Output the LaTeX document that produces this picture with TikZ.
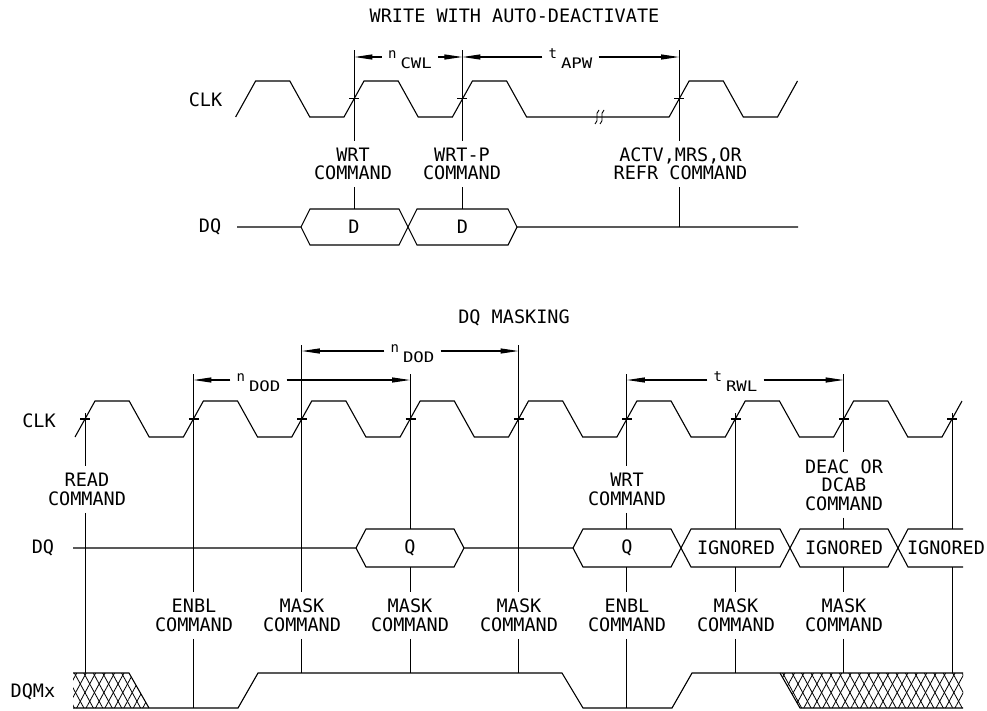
\documentclass[tikz,border=0pt]{standalone}
\usepackage{graphicx}
\usepackage{fontspec}
\setmonofont{DejaVu Sans Mono}
\usetikzlibrary{arrows.meta,patterns.meta,positioning}

\newcommand\dimlbl[2]{{\fontsize{14}{14}\selectfont #1}\hspace{4pt}\raisebox{-10pt}{\fontsize{14.5}{14.5}\selectfont\scalebox{1.2}[1]{#2}}}

\begin{document}
\begin{tikzpicture}[
  x=1pt, y=-1pt,
  wave/.style={line width=1.1pt, line join=miter},
  ext/.style={line width=1.1pt},
  dimarr/.style={line width=1.1pt, -{Triangle[length=18pt,width=5pt]}},
  txt/.style={font=\ttfamily\fontsize{18.5}{18.5}\selectfont, align=center, inner xsep=2pt, inner ysep=7pt},
  dimtxt/.style={font=\ttfamily, anchor=base, inner xsep=6pt, inner ysep=0pt},
  hatch/.style={pattern={Lines[angle=61.5,distance=8.3pt,line width=0.8pt]}},
  hatchb/.style={pattern={Lines[angle=118.5,distance=8.3pt,line width=0.8pt]}}
]
\useasboundingbox (0,0) rectangle (987,710);

% ---------------- Write with auto-deactivate ----------------
\node[txt, inner sep=0pt] (titlewrite) at (514.5,16) {WRITE WITH AUTO-DEACTIVATE};
\node[txt, inner sep=0pt] (clkA) at (205.5,100) {CLK};
\node[txt, inner sep=0pt] (dqA) at (210,227) {DQ};

% clock
\draw[wave] (235.6,117) -- (255.6,81) -- (289.8,81) -- (309.8,117) -- (344,117) -- (364,81)
  -- (398.2,81) -- (418.2,117) -- (452.4,117) -- (472.4,81) -- (506.6,81) -- (526.6,117)
  -- (669.1,117) -- (689.1,81) -- (723.3,81) -- (743.3,117) -- (777.5,117) -- (797.5,81);
% break mark
\foreach \x in {597,602}
  \draw[ext, line width=0.9pt] (\x+2,110) .. controls (\x-3,114) and (\x+3,120) .. (\x-2,124);
\foreach \x in {354.4,462.4,679.1}
  \draw[ext] (\x-5,98.5) -- (\x+5,98.5);

% commands
\node[txt] (wrt) at (353,164) {WRT\\COMMAND};
\node[txt] (wrtp) at (462,164) {WRT-P\\COMMAND};
\node[txt] (actv) at (680.5,164) {ACTV,MRS,OR\\REFR COMMAND};

\coordinate (ea1) at (354.4,50);
\coordinate (ea2) at (462.4,50);
\coordinate (ea3) at (679.1,50);
\coordinate (ba1) at (354.4,209);
\coordinate (ba2) at (462.4,209);
\coordinate (ba3) at (679.1,227);
\draw[ext] (ea1) -- (ea1 |- wrt.north);
\draw[ext] (ea1 |- wrt.south) -- (ba1);
\draw[ext] (ea2) -- (ea2 |- wrtp.north);
\draw[ext] (ea2 |- wrtp.south) -- (ba2);
\draw[ext] (ea3) -- (ea3 |- actv.north);
\draw[ext] (ea3 |- actv.south) -- (ba3);

% dimensions
\coordinate (da1) at (354.4,57);
\coordinate (da2) at (462.4,57);
\coordinate (da3) at (679.1,57);
\node[dimtxt] (ncwl) at (410,58) {\dimlbl{n}{CWL}};
\node[dimtxt] (tapw) at (570.5,58) {\dimlbl{t}{APW}};
\draw[dimarr] (da1 -| ncwl.west) -- (da1);
\draw[dimarr] (da2 -| ncwl.east) -- (da2);
\draw[dimarr] (da2 -| tapw.west) -- (da2);
\draw[dimarr] (da3 -| tapw.east) -- (da3);

% data
\draw[wave] (237,227) -- (301,227) -- (310,209) -- (399,209) -- (417,245) -- (508,245) -- (517,227) -- (798,227);
\draw[wave] (301,227) -- (310,245) -- (399,245) -- (417,209) -- (508,209) -- (517,227);
\node[txt, inner sep=0pt] (d1) at (354,227) {D};
\node[txt, inner sep=0pt] (d2) at (462.4,227) {D};

% ---------------- DQ masking ----------------
\node[txt, inner sep=0pt] (titlemask) at (514,318) {DQ MASKING};
\node[txt, inner sep=0pt] (clkB) at (39,421) {CLK};
\node[txt, inner sep=0pt] (dqB) at (43,548) {DQ};
\node[txt, inner sep=0pt] (dqm) at (33,692) {DQMx};

% clock
\draw[wave] (75,437) -- (95,401)
  foreach \k in {0,...,7} {
    -- ({85+108.375*\k+44.19},401) -- ({85+108.375*\k+64.19},437)
    -- ({85+108.375*(\k+1)-10},437) -- ({85+108.375*(\k+1)+10},401)
  };
\foreach \k in {0,...,8}
  \draw[ext] ({85.4+108.375*\k-5},419) -- ({85.4+108.375*\k+5},419);

% data
\draw[wave] (73,548) -- (356,548) -- (366,529) -- (454,529) -- (464,548) -- (573,548);
\draw[wave] (356,548) -- (366,567) -- (454,567) -- (464,548);
\draw[wave] (573,548) -- (583,529) -- (671,529) -- (691,567) -- (780,567) -- (800,529) -- (888,529) -- (908,567) -- (963,567);
\draw[wave] (573,548) -- (583,567) -- (671,567) -- (691,529) -- (780,529) -- (800,567) -- (888,567) -- (908,529) -- (963,529);
\node[txt, inner sep=0pt] (q1) at (410,548) {Q};
\node[txt, inner sep=0pt] (q2) at (627,548) {Q};
\node[txt, inner sep=0pt] (ign1) at (736,548) {IGNORED};
\node[txt, inner sep=0pt] (ign2) at (844,548) {IGNORED};
\node[txt, inner sep=0pt] (ign3) at (946,548) {IGNORED};

% mask line
\fill[hatch] (73,673) -- (129,673) -- (149,708) -- (73,708) -- cycle;
\fill[hatchb] (73,673) -- (129,673) -- (149,708) -- (73,708) -- cycle;
\fill[hatch] (780,673) -- (963,673) -- (963,708) -- (800,708) -- cycle;
\fill[hatchb] (780,673) -- (963,673) -- (963,708) -- (800,708) -- cycle;
\draw[wave] (73,673) -- (129,673) -- (149,708);
\draw[wave] (73,708) -- (238,708) -- (258,673) -- (562,673) -- (583,708) -- (672,708) -- (692,673) -- (963,673);
\draw[wave] (780,673) -- (800,708) -- (963,708);

% commands
\node[txt] (read) at (87,489.5) {READ\\COMMAND};
\node[txt] (wrtB) at (627,489.5) {WRT\\COMMAND};
\node[txt] (deac) at (844,485) {DEAC OR\\DCAB\\COMMAND};
\node[txt] (enbl1) at (194,615.5) {ENBL\\COMMAND};
\node[txt] (mask1) at (302,615.5) {MASK\\COMMAND};
\node[txt] (mask2) at (410,615.5) {MASK\\COMMAND};
\node[txt] (mask3) at (519,615.5) {MASK\\COMMAND};
\node[txt] (enbl2) at (627,615.5) {ENBL\\COMMAND};
\node[txt] (mask4) at (736,615.5) {MASK\\COMMAND};
\node[txt] (mask5) at (844,615.5) {MASK\\COMMAND};

\coordinate (k0) at (85.4,413);
\coordinate (k1) at (193.4,374);
\coordinate (k2) at (301.75,345);
\coordinate (k3) at (410.1,374);
\coordinate (k4) at (518.5,345);
\coordinate (k5) at (626.9,374);
\coordinate (k6) at (735.25,413);
\coordinate (k7) at (843.6,374);
\coordinate (k8) at (952.4,413);

\draw[ext] (k0) -- (k0 |- read.north);
\draw[ext] (k0 |- read.south) -- (85.4,673);
\draw[ext] (k1) -- (k1 |- enbl1.north);
\draw[ext] (k1 |- enbl1.south) -- (193.4,708);
\draw[ext] (k2) -- (k2 |- mask1.north);
\draw[ext] (k2 |- mask1.south) -- (301.75,673);
\draw[ext] (k3) -- (410.1,529);
\draw[ext] (410.1,567) -- (k3 |- mask2.north);
\draw[ext] (k3 |- mask2.south) -- (410.1,673);
\draw[ext] (k4) -- (k4 |- mask3.north);
\draw[ext] (k4 |- mask3.south) -- (518.5,673);
\draw[ext] (k5) -- (k5 |- wrtB.north);
\draw[ext] (k5 |- wrtB.south) -- (626.9,529);
\draw[ext] (626.9,567) -- (k5 |- enbl2.north);
\draw[ext] (k5 |- enbl2.south) -- (626.9,708);
\draw[ext] (k6) -- (735.25,529);
\draw[ext] (735.25,567) -- (k6 |- mask4.north);
\draw[ext] (k6 |- mask4.south) -- (735.25,673);
\draw[ext] (k7) -- (k7 |- deac.north);
\draw[ext] (k7 |- deac.south) -- (843.6,529);
\draw[ext] (843.6,567) -- (k7 |- mask5.north);
\draw[ext] (k7 |- mask5.south) -- (843.6,673);
\draw[ext] (k8) -- (952.4,529);
\draw[ext] (952.4,567) -- (952.4,673);

% dimensions
\coordinate (db1) at (193.4,380);
\coordinate (db2) at (410.1,380);
\coordinate (db3) at (301.75,351);
\coordinate (db4) at (518.5,351);
\coordinate (db5) at (626.9,380);
\coordinate (db6) at (843.6,380);
\node[dimtxt] (ndod1) at (258.5,381) {\dimlbl{n}{DOD}};
\node[dimtxt] (ndod2) at (412.5,352) {\dimlbl{n}{DOD}};
\node[dimtxt] (trwl) at (735.5,381) {\dimlbl{t}{RWL}};
\draw[dimarr] (db1 -| ndod1.west) -- (db1);
\draw[dimarr] (db2 -| ndod1.east) -- (db2);
\draw[dimarr] (db3 -| ndod2.west) -- (db3);
\draw[dimarr] (db4 -| ndod2.east) -- (db4);
\draw[dimarr] (db5 -| trwl.west) -- (db5);
\draw[dimarr] (db6 -| trwl.east) -- (db6);

\end{tikzpicture}
\end{document}
